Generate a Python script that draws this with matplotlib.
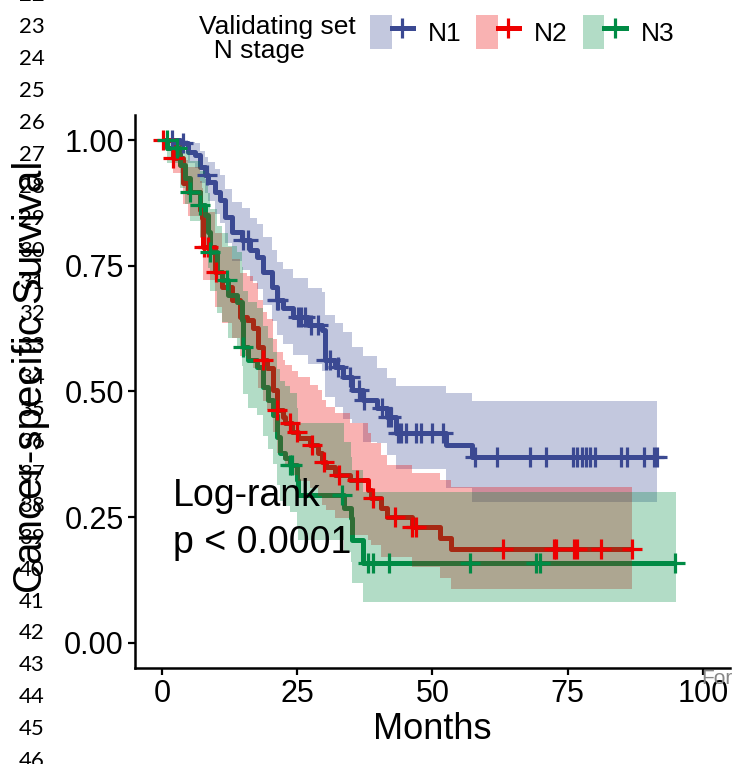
import numpy as np
import matplotlib.pyplot as plt
from matplotlib.patches import Patch
from matplotlib.lines import Line2D
from matplotlib.legend_handler import HandlerTuple

plt.rcParams['font.family'] = ['Liberation Sans', 'DejaVu Sans']

# ---  DATA  --- #
GROUPS = ['N1', 'N2', 'N3']
COLORS = ['#3B4992', '#EE0000', '#008B45']

# N1: KM steps (time, survival) with 95% CI
n1_time = [0, 3.3, 4.8, 6.1, 7.0, 7.9, 8.5, 9.8, 10.7, 11.6, 12.9, 14.7, 16.2,
           17.5, 18.6, 20.3, 21.2, 22.3, 24.2, 26.9, 29.5, 30.1, 31.9, 33.4,
           35.2, 37.1, 39.8, 41.5, 43.3, 52.5, 57.3]
n1_surv = [1.0, 0.994, 0.976, 0.970, 0.946, 0.930, 0.917, 0.897, 0.881, 0.847,
           0.817, 0.801, 0.781, 0.767, 0.738, 0.708, 0.682, 0.666, 0.648, 0.632,
           0.622, 0.563, 0.549, 0.529, 0.503, 0.483, 0.467, 0.449, 0.417, 0.394,
           0.370]
n1_lower = [1.0, 0.982, 0.955, 0.945, 0.915, 0.895, 0.878, 0.853, 0.835, 0.795,
            0.760, 0.742, 0.720, 0.704, 0.672, 0.640, 0.612, 0.594, 0.572, 0.555,
            0.540, 0.490, 0.470, 0.445, 0.437, 0.400, 0.398, 0.374, 0.345, 0.308,
            0.280]
n1_upper = [1.0, 1.0, 0.997, 0.995, 0.978, 0.966, 0.957, 0.942, 0.930, 0.902,
            0.877, 0.864, 0.846, 0.834, 0.808, 0.782, 0.758, 0.744, 0.726, 0.705,
            0.698, 0.652, 0.636, 0.618, 0.588, 0.570, 0.547, 0.527, 0.511, 0.497,
            0.481]
n1_end = 91.5
n1_censor = [1.8, 3.9, 8.3, 15.0, 15.9, 21.3, 21.5, 25.2, 25.7, 26.5, 27.5, 28.8,
             30.4, 31.0, 32.5, 34.7, 36.5, 37.4, 40.6, 41.8, 42.3, 43.6, 44.2,
             45.1, 47.0, 47.9, 50.0, 51.9, 57.8, 62.0, 68.0, 70.9, 76.0, 76.8,
             77.6, 78.3, 79.2, 80.0, 84.9, 86.0, 89.1, 90.9, 91.5]

# N2
n2_time = [0, 2.0, 3.9, 4.8, 7.0, 7.3, 7.6, 9.8, 11.1, 12.9, 14.4, 15.7, 16.8,
           17.7, 18.6, 19.4, 20.5, 21.2, 22.3, 22.7, 24.0, 25.1, 27.3, 28.8,
           29.5, 30.4, 31.9, 34.7, 38.0, 38.7, 40.4, 41.5, 46.3, 51.3, 53.5]
n2_surv = [1.0, 0.964, 0.915, 0.897, 0.861, 0.845, 0.787, 0.738, 0.708, 0.682,
           0.648, 0.642, 0.626, 0.588, 0.563, 0.547, 0.503, 0.463, 0.449, 0.437,
           0.419, 0.408, 0.394, 0.378, 0.360, 0.350, 0.334, 0.324, 0.304, 0.288,
           0.268, 0.250, 0.231, 0.209, 0.187]
n2_lower = [1.0, 0.935, 0.872, 0.850, 0.806, 0.788, 0.722, 0.668, 0.636, 0.607,
            0.571, 0.564, 0.547, 0.507, 0.481, 0.464, 0.419, 0.378, 0.364, 0.352,
            0.334, 0.322, 0.308, 0.292, 0.275, 0.265, 0.249, 0.215, 0.205, 0.195,
            0.171, 0.171, 0.151, 0.129, 0.107]
n2_upper = [1.0, 0.995, 0.960, 0.946, 0.918, 0.905, 0.858, 0.815, 0.788, 0.764,
            0.735, 0.730, 0.716, 0.682, 0.659, 0.645, 0.604, 0.578, 0.563, 0.552,
            0.540, 0.529, 0.513, 0.503, 0.483, 0.469, 0.457, 0.437, 0.417, 0.398,
            0.374, 0.354, 0.338, 0.324, 0.310]
n2_end = 86.9
n2_censor = [0.2, 2.0, 7.7, 8.5, 9.9, 18.6, 21.2, 23.6, 24.9, 27.7, 29.9, 32.8,
             36.0, 39.0, 43.0, 46.3, 47.0, 63.1, 72.5, 72.8, 76.1, 76.8, 81.1,
             86.9]

# N3
n3_time = [0, 1.0, 3.3, 4.2, 5.2, 7.0, 7.9, 8.5, 8.8, 10.1, 11.1, 12.2, 13.8,
           14.7, 14.9, 15.9, 17.5, 18.6, 19.5, 20.5, 21.2, 21.8, 22.7, 23.6,
           24.9, 25.1, 33.7, 35.0, 35.2, 37.1]
n3_surv = [1.0, 0.985, 0.950, 0.924, 0.897, 0.871, 0.851, 0.817, 0.777, 0.738,
           0.722, 0.692, 0.678, 0.642, 0.588, 0.563, 0.549, 0.509, 0.483, 0.453,
           0.410, 0.378, 0.368, 0.354, 0.324, 0.294, 0.268, 0.249, 0.205, 0.159]
n3_lower = [1.0, 0.955, 0.905, 0.872, 0.840, 0.808, 0.785, 0.745, 0.700, 0.656,
            0.638, 0.606, 0.590, 0.551, 0.494, 0.468, 0.453, 0.412, 0.386, 0.356,
            0.314, 0.283, 0.273, 0.260, 0.232, 0.205, 0.180, 0.160, 0.120, 0.082]
n3_upper = [1.0, 1.0, 0.995, 0.978, 0.958, 0.938, 0.922, 0.895, 0.862, 0.830,
            0.816, 0.790, 0.778, 0.748, 0.700, 0.678, 0.666, 0.630, 0.606, 0.578,
            0.545, 0.520, 0.510, 0.497, 0.468, 0.437, 0.400, 0.370, 0.344, 0.300]
n3_end = 95.0
n3_censor = [0.9, 2.8, 5.2, 7.0, 8.8, 12.0, 14.9, 23.6, 24.0, 33.2, 38.0, 39.0,
             41.9, 56.9, 69.1, 69.8, 94.9]

X_TICKS = [0, 25, 50, 75, 100]
Y_TICKS = [0.00, 0.25, 0.50, 0.75, 1.00]
LINE_NUMBERS = list(range(22, 47))


# ---  FUNCTIONS  --- #
def extend(time, vals, end):
    # Carry the last value out to the end of follow-up
    return np.append(time, end), np.append(vals, vals[-1])


def surv_at(time, surv, t):
    idx = np.searchsorted(time, t, side='right') - 1
    return np.asarray(surv)[idx]


def draw_lines(ax, time, surv, end, color):
    t, s = extend(time, surv, end)
    ax.step(t, s, where='post', color=color, lw=3.6, zorder=2,
            solid_capstyle='butt')


def draw_ribbon(ax, time, lower, upper, end, color):
    t, lo = extend(time, lower, end)
    _, hi = extend(time, upper, end)
    ax.fill_between(t, lo, hi, step='post', color=color, alpha=0.3, lw=0,
                    zorder=3)


def draw_censor(ax, time, surv, censor, color):
    ax.plot(censor, surv_at(time, surv, censor), ls='none', marker='+',
            ms=14, mew=2.3, color=color, zorder=4)


# ---   MAIN   --- #
fig = plt.figure(figsize=(7.4, 7.64), dpi=100)
ax = fig.add_axes([0.1824, 0.1257, 0.8041, 0.7238])

curves = [
    (n1_time, n1_surv, n1_lower, n1_upper, n1_end, n1_censor),
    (n2_time, n2_surv, n2_lower, n2_upper, n2_end, n2_censor),
    (n3_time, n3_surv, n3_lower, n3_upper, n3_end, n3_censor),
]
# Lines first, ribbons over them, censor ticks on top
for (time, surv, lo, hi, end, cens), color in zip(curves, COLORS):
    draw_lines(ax, time, surv, end, color)
for (time, surv, lo, hi, end, cens), color in zip(curves, COLORS):
    draw_ribbon(ax, time, lo, hi, end, color)
for (time, surv, lo, hi, end, cens), color in zip(curves, COLORS):
    draw_censor(ax, time, surv, cens, color)

ax.text(2.0, 0.245, 'Log-rank\np < 0.0001', fontsize=27, va='center',
        ha='left', linespacing=1.4, zorder=5)

# Axes format
ax.set_xlim(-5, 105)
ax.set_ylim(-0.05, 1.05)
ax.set_xticks(X_TICKS)
ax.set_yticks(Y_TICKS)
ax.set_yticklabels([f'{v:.2f}' for v in Y_TICKS])
ax.tick_params(labelsize=22, width=1.6, length=5, color='black', pad=3)
for side in ['top', 'right']:
    ax.spines[side].set_visible(False)
for side in ['left', 'bottom']:
    ax.spines[side].set_linewidth(1.8)
ax.set_xlabel('Months', fontsize=26, labelpad=2)
ax.set_ylabel('Cancer-specific Survival', fontsize=29)
ax.yaxis.set_label_coords(-0.143, 0.526)

# Legend across the top
handles = [
    (Patch(facecolor=c, alpha=0.3, lw=0),
     Line2D([], [], color=c, lw=3.6, marker='+', ms=14, mew=2.3))
    for c in COLORS
]
fig.legend(handles, GROUPS, handler_map={tuple: HandlerTuple(ndivide=None)},
           ncol=3, loc='center left', bbox_to_anchor=(0.5, 0.958),
           frameon=False, fontsize=19, handlelength=1.63, handleheight=1.63,
           handletextpad=0.57, columnspacing=0.55, borderpad=0,
           borderaxespad=0)
fig.text(199 / 740, 1 - 39 / 764, 'Validating set\n  N stage', fontsize=19,
         ha='left', va='center', linespacing=1.05)

# Line numbering down the left margin
for n in LINE_NUMBERS:
    y_px = 123 + (n - 26) * 31.9
    fig.text(32 / 740, 1 - y_px / 764, str(n), fontsize=16, family='Lato',
             ha='center', va='center')
fig.text(701 / 740, 1 - 678 / 764, 'For', fontsize=15, color='#888888',
         ha='left', va='center')

fig.savefig('out.png', dpi=100)
